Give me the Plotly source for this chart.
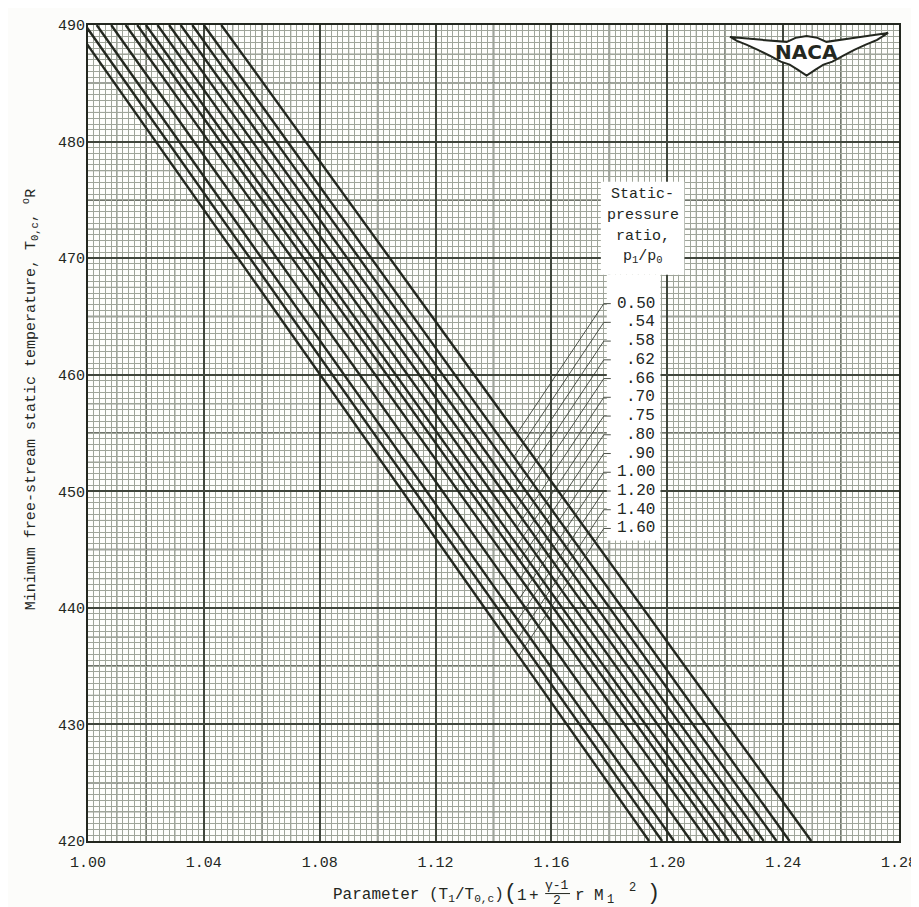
import numpy as np
import plotly.graph_objects as go

# ---------------- data ----------------
ratio_labels = ["0.50", ".54", ".58", ".62", ".66", ".70", ".75", ".80",
                ".90", "1.00", "1.20", "1.40", "1.60"]
# parameter value where each line meets T = 420 and T = 490 deg R
param_at_420 = [1.2497, 1.2422, 1.2377, 1.2333, 1.2295, 1.2254, 1.2212,
                1.2181, 1.2140, 1.2082, 1.2023, 1.1982, 1.1937]
param_at_490 = [1.0460, 1.0400, 1.0360, 1.0320, 1.0280, 1.0240, 1.0200,
                1.0170, 1.0130, 1.0080, 1.0030, 0.9990, 0.9950]
temp_ends = [420, 490]

# ---------------- geometry ----------------
W, H = 919, 907
ML, MR, MT, MB = 80, 23, 10, 74
PW, PH = W - ML - MR, H - MT - MB
X0, X1 = 1.00, 1.28
Y0, Y1 = 420.0, 490.0

def d2p(x, y):
    return ML + (x - X0) / (X1 - X0) * PW, MT + (Y1 - y) / (Y1 - Y0) * PH

def p2d(px, py):
    return X0 + (px - ML) / PW * (X1 - X0), Y1 - (py - MT) / PH * (Y1 - Y0)

def pap(px, py):
    return (px - ML) / PW, (MT + PH - py) / PH

INK = "#23271f"
FINE = "#9fa59a"
MED = "#697064"
BOLD = "#40463c"
FONT = "Liberation Mono"

fig = go.Figure()

for i, lab in enumerate(ratio_labels):
    fig.add_trace(go.Scatter(
        x=[param_at_420[i], param_at_490[i]], y=temp_ends, mode="lines",
        line=dict(color=INK, width=2.4), name=lab, showlegend=False,
        hoverinfo="skip"))

shapes = []
# extra grid levels (between gridlines and traces)
for k in range(1, 28, 2):      # odd hundredths: medium
    v = 1.0 + k * 0.01
    shapes.append(dict(type="line", xref="x", yref="paper", x0=v, x1=v, y0=0, y1=1,
                       line=dict(color=MED, width=0.9), layer="between"))
for k in range(1, 14, 2):      # 1.02, 1.06, ... : bold
    v = 1.0 + k * 0.02
    shapes.append(dict(type="line", xref="x", yref="paper", x0=v, x1=v, y0=0, y1=1,
                       line=dict(color=BOLD, width=1.6), layer="between"))
for k in range(1, 28, 2):      # every 2.5 deg: medium
    v = 420 + k * 2.5
    shapes.append(dict(type="line", xref="paper", yref="y", x0=0, x1=1, y0=v, y1=v,
                       line=dict(color=MED, width=0.9), layer="between"))
for k in range(1, 14, 2):      # 425, 435, ... : bold
    v = 420 + k * 5
    shapes.append(dict(type="line", xref="paper", yref="y", x0=0, x1=1, y0=v, y1=v,
                       line=dict(color=BOLD, width=1.6), layer="between"))

# white label column and header box
def rect_px(x0, y0, x1, y1):
    a = p2d(x0, y0)
    b = p2d(x1, y1)
    return dict(type="rect", xref="x", yref="y", x0=a[0], y0=a[1], x1=b[0], y1=b[1],
                fillcolor="white", line=dict(width=0), layer="above")

shapes.append(rect_px(596, 168, 680, 262))
shapes.append(rect_px(602, 262, 656, 530))

annotations = []
for k, t in enumerate(["Static-", "pressure", "ratio,", "p<sub>1</sub>/p<sub>0</sub>"]):
    xp, yp = pap(638, 181 + 21 * k)
    annotations.append(dict(text=t, x=xp, y=yp, xref="paper", yref="paper",
                            showarrow=False, xanchor="center", yanchor="middle",
                            font=dict(family=FONT, size=15, color=INK)))

# labels + leaders
for i, lab in enumerate(ratio_labels):
    py = 291 + 18.9 * i
    xp, yp = pap(653, py)
    annotations.append(dict(text=lab, x=xp, y=yp, xref="paper", yref="paper",
                            showarrow=False, xanchor="right", yanchor="middle",
                            font=dict(family=FONT, size=16, color=INK)))
    sx, sy = 599.0, py
    dx, dy = -1.0, 1.5
    ax, ay = d2p(param_at_420[i], 420)
    bx, by = d2p(param_at_490[i], 490)
    ex, ey = bx - ax, by - ay
    M = np.array([[dx, -ex], [dy, -ey]])
    rhs = np.array([ax - sx, ay - sy])
    t, u = np.linalg.solve(M, rhs)
    hx, hy = sx + t * dx, sy + t * dy
    s_d = p2d(sx, sy)
    h_d = p2d(hx, hy)
    e_d = p2d(606, py)
    shapes.append(dict(type="line", xref="x", yref="y", x0=h_d[0], y0=h_d[1],
                       x1=s_d[0], y1=s_d[1], line=dict(color="#3a3f37", width=0.9),
                       layer="above"))
    shapes.append(dict(type="line", xref="x", yref="y", x0=s_d[0], y0=s_d[1],
                       x1=e_d[0], y1=e_d[1], line=dict(color="#3a3f37", width=0.9),
                       layer="above"))

# NACA wing logo
wing_px = [(726, 22), (758, 25), (783, 27), (792, 23), (803, 21), (814, 23),
           (823, 27), (850, 23), (885, 18), (874, 25), (862, 30), (851, 35),
           (840, 41), (829, 47), (820, 50), (812, 55), (803, 61), (794, 55),
           (786, 50), (777, 47), (766, 41), (754, 35), (743, 30), (733, 26)]
pts = [p2d(a, b) for a, b in wing_px]
path = "M " + " L ".join(f"{x:.5f},{y:.4f}" for x, y in pts) + " Z"
shapes.append(dict(type="path", xref="x", yref="y", path=path, fillcolor="white",
                   line=dict(color=INK, width=2.0), layer="above"))
xp, yp = pap(803, 37)
annotations.append(dict(text="<b>NACA</b>", x=xp, y=yp, xref="paper", yref="paper",
                        showarrow=False, xanchor="center", yanchor="middle",
                        font=dict(family="DejaVu Sans", size=20, color=INK)))

# y axis title
xp, yp = pap(22, 388)
annotations.append(dict(
    text="Minimum free-stream static temperature, T<sub>0,c</sub>, <sup>o</sup>R",
    x=xp, y=yp, xref="paper", yref="paper", showarrow=False, textangle=-90,
    xanchor="center", yanchor="middle", font=dict(family=FONT, size=15, color=INK)))

def ann_px(text, px, py, size=16, xanchor="left"):
    xp, yp = pap(px, py)
    annotations.append(dict(text=text, x=xp, y=yp, xref="paper", yref="paper",
                            showarrow=False, xanchor=xanchor, yanchor="middle",
                            font=dict(family=FONT, size=size, color=INK)))

# x axis title built from pieces
ann_px("Parameter (T<sub>1</sub>/T<sub>0,c</sub>)", 324, 888)
ann_px("(", 497, 886, size=22)
ann_px("1", 510, 888)
ann_px("+", 522, 888)
ann_px("\u03b3-1", 552, 878, size=13, xanchor="center")
ann_px("2", 552, 893, size=13, xanchor="center")
shapes.append(dict(type="line", xref="paper", yref="paper",
                   x0=pap(540, 886)[0], x1=pap(565, 886)[0],
                   y0=pap(540, 886)[1], y1=pap(565, 886)[1],
                   line=dict(color=INK, width=1.0)))
ann_px("r", 568, 888)
ann_px("M", 587, 888)
ann_px("1", 600, 893, size=12)
ann_px("2", 622, 880, size=12)
ann_px(")", 640, 886, size=22)

fig.update_layout(
    width=W, height=H,
    margin=dict(l=ML, r=MR, t=MT, b=MB),
    paper_bgcolor="#fcfcfa", plot_bgcolor="#fefefc",
    shapes=shapes, annotations=annotations,
    xaxis=dict(range=[X0, X1], tickmode="linear", tick0=1.0, dtick=0.04,
               tickformat=".2f", showgrid=True,
               gridcolor=BOLD, gridwidth=1.6, zeroline=False,
               showline=True, mirror=True, linecolor=INK, linewidth=1.8,
               ticks="", ticklabelstandoff=6,
               tickfont=dict(family=FONT, size=15, color=INK),
               minor=dict(tick0=1.0, dtick=0.002, showgrid=True,
                          gridcolor=FINE, gridwidth=0.55)),
    yaxis=dict(range=[Y0, Y1], tickmode="linear", tick0=420, dtick=10,
               showgrid=True,
               gridcolor=BOLD, gridwidth=1.6, zeroline=False,
               showline=True, mirror=True, linecolor=INK, linewidth=1.8,
               ticks="", ticklabelstandoff=-2,
               tickfont=dict(family=FONT, size=15, color=INK),
               minor=dict(tick0=420, dtick=0.5, showgrid=True,
                          gridcolor=FINE, gridwidth=0.55)),
)

fig.write_html("out.html")
